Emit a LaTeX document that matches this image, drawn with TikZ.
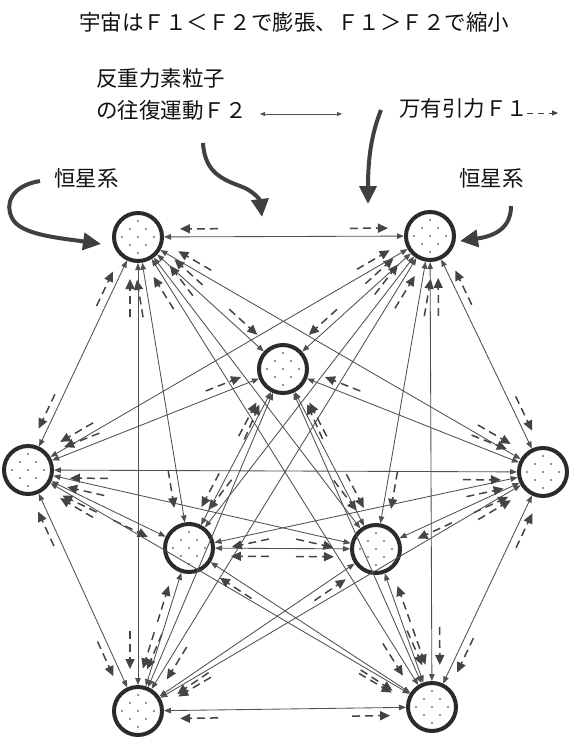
\documentclass[tikz,border=0pt]{standalone}
\usepackage{fontspec}
\newfontfamily\jp{Noto Sans CJK JP}
\usetikzlibrary{arrows.meta,calc}
\definecolor{ink}{HTML}{2B2B2B}
\definecolor{edgec}{HTML}{505050}
\definecolor{dashc}{HTML}{444444}
\definecolor{txt}{HTML}{111111}
\begin{document}
\begin{tikzpicture}[x=1pt,y=-1pt,
  starsys/.style={circle,draw=ink,line width=4pt,minimum size=48pt,inner sep=0pt,fill=white,
    path picture={\foreach \dx/\dy in {0/-16,-8/-8,8/-8,-16/0,0/0,16/0,-8/8,8/8,0/16}
      \fill[black!55] ($(path picture bounding box.center)+(\dx,\dy)$) circle (1.1pt);}},
  edge/.style={draw=edgec,line width=0.85pt,{Triangle[length=7pt,width=5.5pt]}-{Triangle[length=7pt,width=5.5pt]}},
  dasharr/.style={draw=dashc,line width=1.5pt,dash pattern=on 8pt off 5pt,-{Triangle[length=10pt,width=9pt]}},
  bigarr/.style={draw=ink!90,line width=4pt,-{Triangle[length=18pt,width=17pt]}},
  lbl/.style={font=\jp\fontsize{21.5}{24}\selectfont,text=txt,inner sep=0pt}
]
\useasboundingbox (0,0) rectangle (584,744);
% texts
\node[lbl] (title) at (294,22) {宇宙はＦ１＜Ｆ２で膨張、Ｆ１＞Ｆ２で縮小};
\node[lbl,anchor=west] (f2a) at (96,78) {反重力素粒子};
\node[lbl,anchor=west] (f2b) at (96,110) {の往復運動Ｆ２};
\node[lbl,anchor=west] (f1) at (399,108) {万有引力Ｆ１};
\node[lbl,anchor=west] (sl) at (54,178) {恒星系};
\node[lbl,anchor=west] (sr) at (459,178) {恒星系};
% legend arrows
\coordinate (lgA) at (260,114);
\coordinate (lgB) at (342,114);
\draw[edge,line width=0.7pt,{Triangle[length=5pt,width=4pt]}-{Triangle[length=5pt,width=4pt]}] (lgA) -- (lgB);
\coordinate (lgC) at (527,113);
\coordinate (lgD) at (558,113);
\draw[dasharr,line width=1pt,dash pattern=on 6pt off 5pt,-{Triangle[length=6pt,width=5pt]}] (lgC) -- (lgD);
% star systems
\node[starsys] (TL) at (138,237) {};
\node[starsys] (TR) at (430,236) {};
\node[starsys] (C) at (283,369) {};
\node[starsys] (L) at (28,470) {};
\node[starsys] (R) at (543,472) {};
\node[starsys] (ML) at (189,548) {};
\node[starsys] (MR) at (376,549) {};
\node[starsys] (BL) at (138,711) {};
\node[starsys] (BR) at (432,707) {};
\coordinate (M) at (285,470);
\foreach \a/\b in {TL/TR,TL/C,TL/L,TL/R,TL/ML,TL/MR,TL/BL,TL/BR,
                   TR/C,TR/L,TR/R,TR/ML,TR/MR,TR/BL,TR/BR,
                   C/L,C/R,C/ML,C/MR,C/BL,C/BR,
                   L/R,L/ML,L/MR,L/BL,L/BR,
                   R/ML,R/MR,R/BL,R/BR,
                   ML/MR,ML/BL,ML/BR,
                   MR/BL,MR/BR,
                   BL/BR}{
  \draw[edge] (\a) -- (\b);
  \path let \p0=(M), \p1=(\a.center), \p2=(\b.center),
    \n1={ifthenelse(((\x0-\x1)/100)*((\y1-\y2)/100)+((\y0-\y1)/100)*((\x2-\x1)/100)<0,90,-90)},
    \n2={-1*(\n1)} in
    ($(\a)!80pt!(\b)!8pt!\n1:(\b)$) edge[dasharr] ($(\a)!42pt!(\b)!8pt!\n1:(\b)$)
    ($(\b)!80pt!(\a)!8pt!\n2:(\a)$) edge[dasharr] ($(\b)!42pt!(\a)!8pt!\n2:(\a)$);
}
% pointer arrows
\coordinate (pl0) at (40,181);
\coordinate (pl1) at (101,244);
\draw[bigarr] (pl0) .. controls (10,186) and (5,205) .. (12,218) .. controls (20,235) and (60,238) .. (pl1);
\coordinate (pr0) at (511,206);
\coordinate (pr1) at (460,241);
\draw[bigarr] (pr0) .. controls (511,228) and (495,236) .. (pr1);
\coordinate (pa0) at (203,143);
\coordinate (pa1) at (262,217);
\draw[bigarr] (pa0) .. controls (205,175) and (225,180) .. (245,188) .. controls (255,193) and (260,200) .. (pa1);
\coordinate (pb0) at (381,110);
\coordinate (pb1) at (368,204);
\draw[bigarr] (pb0) .. controls (371,135) and (368,160) .. (pb1);
\end{tikzpicture}
\end{document}
